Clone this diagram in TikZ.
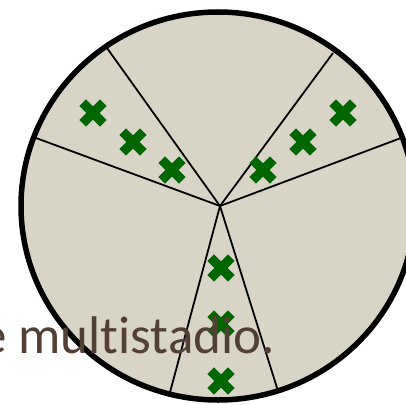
\documentclass[tikz,border=0pt]{standalone}
\usepackage{fontspec}
\setmainfont{Carlito}[Ligatures={NoCommon,NoRare}]
\definecolor{disk}{RGB}{216,213,199}
\definecolor{xgreen}{RGB}{0,102,0}
\definecolor{txtbrown}{RGB}{82,64,52}
\begin{document}
\begin{tikzpicture}[x=1pt,y=-1pt,
  rim/.style={draw=black, line width=5.5pt, fill=disk},
  spoke/.style={draw=black, line width=1.8pt},
  xmk/.pic={\draw[line width=9.5pt, draw=xgreen] (-10.3,-10.3)--(10.3,10.3) (-10.3,10.3)--(10.3,-10.3);},
  lbl/.style={text=txtbrown, inner sep=0pt, font=\fontsize{53}{58}\selectfont}]
\useasboundingbox (0,0) rectangle (406,404);
\clip (0,0) rectangle (406,404);
\path[rim] (218,206) ellipse [x radius=197, y radius=194];
\coordinate (v) at (220,206);
\coordinate (e1) at (107,48);
\coordinate (e2) at (333,53);
\coordinate (e3) at (36,138);
\coordinate (e4) at (401,138);
\coordinate (e5) at (169,396);
\coordinate (e6) at (278,391);
\foreach \e in {e1,e2,e3,e4,e5,e6} \draw[spoke] (v) -- (\e);
\foreach \p in {(93,113),(133,142),(172,170),(343,113),(303,142),(263,170),(221,268),(221,324),(221,381)}
  \pic at \p {xmk};
\node[lbl, anchor=base east] (t) at (275,353) {e multistadio.};
\end{tikzpicture}
\end{document}
